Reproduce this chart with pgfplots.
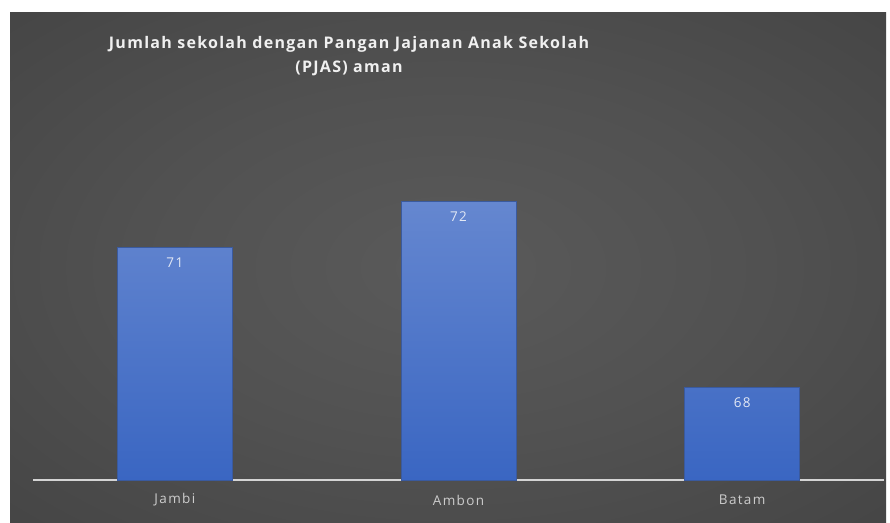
\documentclass[border=0pt]{standalone}
\usepackage{pgfplots}
\pgfplotsset{compat=1.18}
\usepackage{fontspec}
\setmainfont{Open Sans}
\newfontfamily\titlefont[LetterSpace=8]{Open Sans}
\newfontfamily\lblfont[LetterSpace=10]{Open Sans}
\definecolor{bgA}{HTML}{5A5A5A}
\definecolor{bgB}{HTML}{515151}
\definecolor{bgC}{HTML}{3C3C3C}
\definecolor{bgD}{HTML}{2A2A2A}
\definecolor{titlec}{HTML}{F0F0F0}
\definecolor{tickc}{HTML}{CCCCCC}
\definecolor{valc}{HTML}{E2E8F5}
\definecolor{axisc}{HTML}{D4D4D4}
\definecolor{barTop}{HTML}{6587D0}
\definecolor{barBot}{HTML}{3A66C2}
\definecolor{barEdge}{HTML}{3A5A9E}
\pgfdeclareradialshading{bgshade}{\pgfpoint{0bp}{0bp}}{color(0bp)=(bgA); color(18bp)=(bgB); color(50bp)=(bgC); color(72bp)=(bgD)}
\begin{document}
\begin{tikzpicture}
\useasboundingbox (0pt,0pt) rectangle (890pt,522pt);
\fill[white] (0pt,0pt) rectangle (890pt,522pt);
\shade[shading=bgshade] (10pt,0pt) rectangle (886pt,509pt);
\node[text=titlec, font=\titlefont\bfseries\fontsize{16}{24}\selectfont, align=center, inner sep=0pt] at (349pt,466pt) {Jumlah sekolah dengan Pangan Jajanan Anak Sekolah\\(PJAS) aman};
\begin{axis}[
  at={(33pt,42pt)}, anchor=south west,
  scale only axis, width=851pt, height=372pt,
  xmin=-0.5, xmax=2.5, ymin=66, ymax=74,
  y coord trafo/.code={\pgfmathparse{#1-66}},
  y coord inv trafo/.code={\pgfmathparse{#1+66}},
  ybar, bar width=115pt,
  axis y line=none, axis x line=bottom,
  x axis line style={draw=axisc, line width=1.3pt, -},
  xtick={0,1,2}, xticklabels={Jambi,Ambon,Batam},
  major tick length=0pt,
  xticklabel style={text=tickc, font=\lblfont\fontsize{13.5}{15}\selectfont, anchor=center, yshift=-20pt},
  nodes near coords, point meta=rawy,
  /pgf/number format/assume math mode=true,
  every node near coord/.append style={anchor=north, yshift=-7pt, text=valc, font=\lblfont\fontsize{13.5}{15}\selectfont},
]
\addplot[draw=barEdge, line width=0.5pt, top color=barTop, bottom color=barBot] coordinates {(0,71) (1,72) (2,68)};
\end{axis}
\end{tikzpicture}
\end{document}
